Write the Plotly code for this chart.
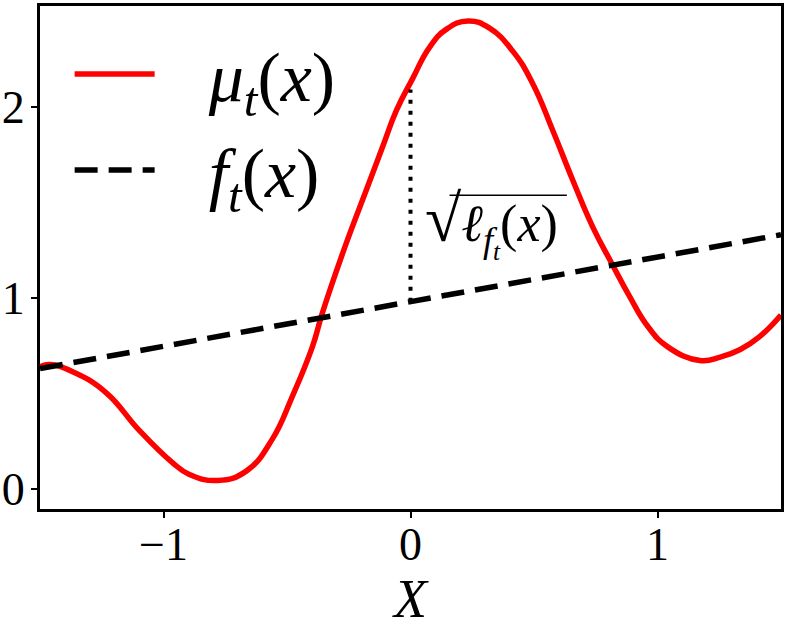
import plotly.graph_objects as go

# red mean curve
mu_x = [-1.5, -1.46, -1.37, -1.233, -1.10, -0.965, -0.897, -0.78, -0.665, -0.56, -0.48, -0.397,
        -0.357, -0.26, -0.18, -0.114, -0.057, 0.008, 0.077, 0.146, 0.233, 0.32, 0.414, 0.495,
        0.576, 0.657, 0.738, 0.815, 0.888, 0.961, 1.04, 1.172, 1.254, 1.335, 1.416, 1.5]
mu_y = [0.64, 0.651, 0.615, 0.505, 0.31, 0.14, 0.078, 0.045, 0.094, 0.26, 0.48, 0.745,
        0.92, 1.286, 1.56, 1.786, 1.98, 2.145, 2.31, 2.405, 2.448, 2.41, 2.29, 2.12,
        1.875, 1.615, 1.37, 1.18, 1.005, 0.85, 0.745, 0.672, 0.69, 0.73, 0.80, 0.91]

# dashed linear function
f_x = [-1.5, 1.5]
f_y = [0.63, 1.33]

# dotted gap at x=0
gap_x = [0.0, 0.0]
gap_y = [0.98, 2.09]

xticks = [-1, 0, 1]
xticklabels = ["\u22121", "0", "1"]
yticks = [0, 1, 2]
yticklabels = ["0", "1", "2"]

SERIF = "Liberation Serif"

fig = go.Figure()
fig.add_trace(go.Scatter(x=mu_x, y=mu_y, mode="lines",
                         line=dict(color="#ff0000", width=5.5, shape="spline", smoothing=1.3),
                         name="\u2002\u2009<i>\u03bc<sub>t</sub></i>(<i>x</i>)", legendgroup="a"))
fig.add_trace(go.Scatter(x=f_x, y=f_y, mode="lines", line=dict(color="black", width=5.5, dash="23px,11px"),
                         name="\u2002\u2009<i>f<sub>t</sub></i>(<i>x</i>)", legendgroup="b"))
fig.add_trace(go.Scatter(x=gap_x, y=gap_y, mode="lines", line=dict(color="black", width=4, dash="4px,7px"),
                         showlegend=False))

fig.add_annotation(x=0.049, y=1.385, xref="x", yref="y", xanchor="left", yanchor="middle",
                   text="<span style='font-size:66px'>\u221a</span><i>\u2113<sub>f<sub>t</sub></sub></i>(<i>x</i>)",
                   showarrow=False, font=dict(family=SERIF, size=52, color="black"))
fig.add_shape(type="line", xref="x", yref="y", x0=0.158, x1=0.633, y0=1.536, y1=1.536,
              line=dict(color="black", width=1.5))

axis_common = dict(showline=True, linecolor="black", linewidth=3, mirror=True, ticks="outside",
                   ticklen=6, tickwidth=2, tickcolor="black", showgrid=False, zeroline=False,
                   automargin=False,
                   tickfont=dict(family=SERIF, size=46, color="black"))
fig.update_xaxes(range=[-1.5, 1.5], tickvals=xticks, ticktext=xticklabels, ticklabelstandoff=-13,
                 title=dict(text="<i>X</i>", font=dict(family=SERIF, size=54, color="black"), standoff=12),
                 **axis_common)
fig.update_yaxes(range=[-0.104, 2.526], tickvals=yticks, ticktext=yticklabels, ticklabelstandoff=-3,
                 **axis_common)

fig.update_layout(width=789, height=629, margin=dict(l=40, r=8, t=6, b=120),
                  plot_bgcolor="white", paper_bgcolor="white",
                  font=dict(family=SERIF, color="black"),
                  legend=dict(x=0.04, y=0.968, xanchor="left", yanchor="top", bgcolor="rgba(0,0,0,0)",
                              font=dict(family=SERIF, size=70, color="black"), tracegroupgap=2,
                              itemwidth=80))

fig.write_html("out.html", config={"displayModeBar": False},
               post_script="document.body.style.margin='0px';")
